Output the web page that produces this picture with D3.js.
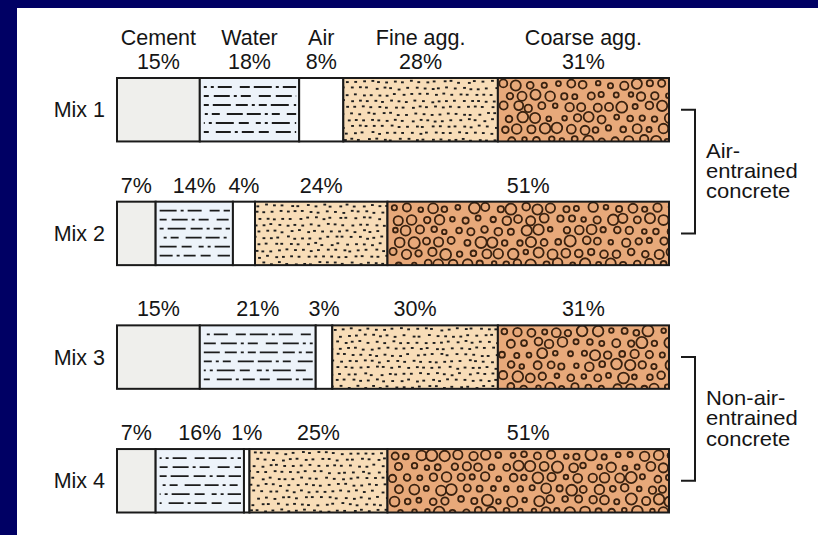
<!DOCTYPE html>
<html>
<head>
<meta charset="utf-8">
<script src="https://cdn.jsdelivr.net/npm/d3@7"></script>
<style>
  html, body { margin: 0; padding: 0; background: #000064; }
  svg { display: block; }
  text { font-family: "Liberation Sans", Arial, Helvetica, sans-serif; fill: #151515; }
</style>
</head>
<body>
<svg id="chart" width="818" height="535"></svg>
<script>
// Volume proportions of four concrete mixes (percent of total volume)
const mixes = ["Mix 1", "Mix 2", "Mix 3", "Mix 4"];
const components = ["Cement", "Water", "Air", "Fine agg.", "Coarse agg."];
const mix1 = [15, 18, 8, 28, 31];
const mix2 = [7, 14, 4, 24, 51];
const mix3 = [15, 21, 3, 30, 31];
const mix4 = [7, 16, 1, 25, 51];
const groupLabels = [["Air-", "entrained", "concrete"], ["Non-air-", "entrained", "concrete"]];
const groupMembers = [["Mix 1", "Mix 2"], ["Mix 3", "Mix 4"]];

const mixValues = [mix1, mix2, mix3, mix4];

const W = 818, H = 535;
const svg = d3.select("#chart");

// navy frame with white panel
svg.append("rect").attr("width", W).attr("height", H).attr("fill", "#000064");
svg.append("rect").attr("x", 17).attr("y", 8).attr("width", W - 17).attr("height", H - 8).attr("fill", "#ffffff");

const x = d3.scaleLinear().domain([0, 100]).range([117, 669]);
const y = d3.scaleBand().domain(mixes).range([78, 512.5]).paddingInner(0.487).paddingOuter(0);
const fill = d3.scaleOrdinal().domain(components)
  .range(["#efefec", "#edf3fa", "#ffffff", "#f8ddb8", "#e8a97a"]);

// deterministic jitter for the material textures
function hash(n) {
  const s = Math.sin(n * 127.1 + 311.7) * 43758.5453;
  return s - Math.floor(s);
}

const segments = [];
mixValues.forEach((vals, mi) => {
  let acc = 0;
  vals.forEach((v, ci) => {
    segments.push({ mix: mixes[mi], mi, comp: components[ci], ci, v, x0: acc, x1: acc + v });
    acc += v;
  });
});

const defs = svg.append("defs");
const bw = y.bandwidth();

const seg = svg.append("g").selectAll("g").data(segments).join("g");

seg.each(function (d, i) {
  const g = d3.select(this);
  const X0 = x(d.x0), X1 = x(d.x1), Y0 = y(d.mix);
  const id = "clip" + i;
  defs.append("clipPath").attr("id", id)
    .append("rect").attr("x", X0).attr("y", Y0).attr("width", X1 - X0).attr("height", bw);
  g.append("rect").attr("x", X0).attr("y", Y0).attr("width", X1 - X0).attr("height", bw)
    .attr("fill", fill(d.comp));
  const tex = g.append("g").attr("clip-path", `url(#${id})`);
  const seed = i * 1000 + 17;

  if (d.comp === "Water") {
    const dashes = ["18,4,3,4,14,8,10,4", "12,5,16,4,3,4,10,8", "8,4,18,5,12,4,3,4",
                    "14,4,3,4,8,7,16,4", "5,4,3,4,18,5,10,7", "10,7,15,4,3,4,12,5"];
    for (let k = 0; k < 6; k++) {
      tex.append("line")
        .attr("x1", X0 + 4).attr("x2", X1 - 3)
        .attr("y1", Y0 + 9 + k * 9).attr("y2", Y0 + 9 + k * 9)
        .attr("stroke", "#1c1c1c").attr("stroke-width", 1.8)
        .attr("stroke-dasharray", dashes[k])
        .attr("stroke-dashoffset", Math.floor(hash(seed + k) * 20));
    }
  } else if (d.comp === "Fine agg.") {
    const sx = 8, sy = 6.4;
    let n = 0;
    for (let r = 0; Y0 + 2 + r * sy < Y0 + bw; r++) {
      for (let c = -1; X0 + c * sx < X1; c++) {
        n++;
        const px = X0 + 3 + c * sx + (r % 2) * sx / 2 + (hash(seed + n) - 0.5) * 3.4;
        const py = Y0 + 3 + r * sy + (hash(seed + n + 500) - 0.5) * 2.4;
        tex.append("rect").attr("x", px).attr("y", py)
          .attr("width", 2.8).attr("height", 1.9).attr("fill", "#1e1e1e");
      }
    }
  } else if (d.comp === "Coarse agg.") {
    const sx = 13.2, sy = 11.2;
    let n = 0;
    for (let r = 0; Y0 + r * sy < Y0 + bw + 4; r++) {
      for (let c = 0; X0 + c * sx < X1 + 4; c++) {
        n++;
        const h = hash(seed + n + 900);
        const rad = 2.3 + Math.pow(h, 1.4) * 3.4;
        const px = X0 + 6 + c * sx + (r % 2) * sx / 2 + (hash(seed + n) - 0.5) * 4;
        const py = Y0 + 6.5 + r * sy + (hash(seed + n + 400) - 0.5) * 3;
        tex.append("circle").attr("cx", px).attr("cy", py).attr("r", rad)
          .attr("fill", "none").attr("stroke", "#3a2210").attr("stroke-width", 1.8);
      }
    }
  }
  g.append("rect").attr("x", X0).attr("y", Y0).attr("width", X1 - X0).attr("height", bw)
    .attr("fill", "none").attr("stroke", "#1a1a1a").attr("stroke-width", 2);
});

// percentage labels
svg.append("g").selectAll("text").data(segments).join("text")
  .attr("x", d => (x(d.x0) + x(d.x1)) / 2)
  .attr("y", d => y(d.mix) - 9)
  .attr("text-anchor", "middle")
  .attr("font-size", 21.5)
  .text(d => d.v + "%");

// component names above the first mix
svg.append("g").selectAll("text").data(segments.filter(d => d.mi === 0)).join("text")
  .attr("x", d => (x(d.x0) + x(d.x1)) / 2)
  .attr("y", d => y(d.mix) - 33)
  .attr("text-anchor", "middle")
  .attr("font-size", 21.5)
  .text(d => d.comp);

// mix names
svg.append("g").selectAll("text").data(mixes).join("text")
  .attr("x", 105)
  .attr("y", d => y(d) + bw / 2 + 7.5)
  .attr("text-anchor", "end")
  .attr("font-size", 21.5)
  .text(d => d);

// group brackets with their captions
groupMembers.forEach((members, gi) => {
  const ya = y(members[0]) + bw / 2, yb = y(members[1]) + bw / 2;
  const bx0 = 681, bx1 = 695;
  svg.append("path")
    .attr("d", `M${bx0},${ya}H${bx1}V${yb}H${bx0}`)
    .attr("fill", "none").attr("stroke", "#1a1a1a").attr("stroke-width", 2);
  const mid = (ya + yb) / 2;
  svg.append("g").selectAll("text").data(groupLabels[gi]).join("text")
    .attr("x", 706)
    .attr("y", (t, k) => mid + 6.5 + (k - 1) * 20.3)
    .attr("font-size", 20)
    .attr("transform", "translate(706,0) scale(1.1,1) translate(-706,0)")
    .text(t => t);
});
</script>
</body>
</html>
